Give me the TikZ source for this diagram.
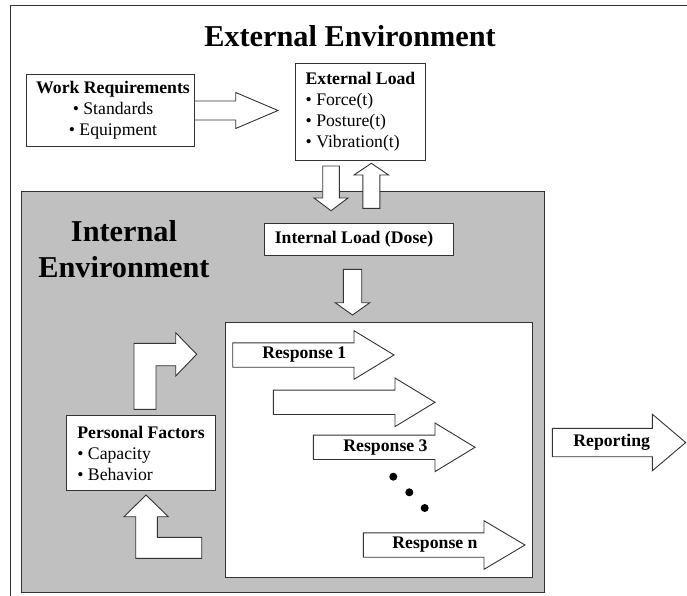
\documentclass[tikz,border=0pt]{standalone}
\usepackage{fontspec}
\setmainfont{Liberation Serif}
\definecolor{linec}{HTML}{333333}
\definecolor{envgray}{HTML}{C0C0C0}
\newcommand\blkR[6]{\filldraw[barrow] (#1,#4-#5) -- (#2,#4-#5) -- (#2,#4-#6) -- (#3,#4) -- (#2,#4+#6) -- (#2,#4+#5) -- (#1,#4+#5) -- cycle;}
\newcommand\blkV[6]{\filldraw[barrow] (#1-#5,#2) -- (#1+#5,#2) -- (#1+#5,#3) -- (#1+#6,#3) -- (#1,#4) -- (#1-#6,#3) -- (#1-#5,#3) -- cycle;}
\begin{document}
\begin{tikzpicture}[x=1pt,y=-1pt,
  barrow/.style={draw=linec, fill=white, line width=0.9pt, line join=miter},
  wbox/.style={draw=linec, fill=white, line width=0.9pt, inner sep=0pt},
  txt/.style={inner sep=0pt, font=\fontsize{17.7}{21}\selectfont},
  bigtxt/.style={inner sep=0pt, font=\fontsize{30.3}{36}\selectfont\bfseries},
  dot/.style={circle, fill=black, inner sep=0pt, minimum size=8pt}]
\useasboundingbox (0,0) rectangle (687,596);
% outer frame
\coordinate (fbl) at (10.7,596);
\coordinate (ftl) at (10.7,5.7);
\coordinate (ftr) at (687,5.7);
\draw[draw=linec, line width=0.9pt] (fbl) -- (ftl) -- (ftr);
% title
\node[bigtxt] (ext) at (350,36.5) {External Environment};
% internal environment gray area
\node[draw=linec, fill=envgray, line width=0.9pt, inner sep=0pt, minimum width=523.3pt, minimum height=401pt, anchor=north west] (int) at (20.7,191) {};
\node[bigtxt, align=center] (intt) at (124,249) {Internal\\Environment};
% response box
\node[wbox, minimum width=307pt, minimum height=255.3pt, anchor=north west] (resp) at (225.3,322) {};
% arrows
\blkR{194}{235.7}{278}{110.5}{9.5}{18}
\blkV{331}{166}{198}{210.7}{8.3}{17}
\blkV{371.3}{208.3}{175}{163.3}{8.5}{17.3}
\blkV{352.5}{269.3}{302.7}{315}{9.2}{17.3}
\blkR{232.7}{354}{394}{355}{12.2}{24.3}
\blkR{273.3}{395}{435}{402.3}{12.2}{24.3}
\blkR{313.3}{435}{475}{447.3}{12.2}{24.3}
\blkR{363.3}{484}{525}{545}{12.2}{24.3}
\blkR{552.3}{652.3}{685.7}{442.5}{14.2}{28.3}
\filldraw[barrow] (134,409.3) -- (134,343.3) -- (175.7,343.3) -- (175.7,332.7) -- (196.7,354.3) -- (175.7,376) -- (175.7,365.7) -- (156,365.7) -- (156,409.3) -- cycle;
\filldraw[barrow] (146,495) -- (168.3,516.7) -- (157.3,516.7) -- (157.3,537.3) -- (201.7,537.3) -- (201.7,558.3) -- (135.7,558.3) -- (135.7,516.7) -- (124,516.7) -- cycle;
% boxes
\node[wbox, minimum width=168pt, minimum height=72pt] (wr) at (110,110) {};
\node[txt, align=center] (wrt) at (113,110) {\textbf{Work Requirements}\\• Standards\\• Equipment};
\node[wbox, minimum width=130pt, minimum height=97pt] (el) at (360.7,111.5) {};
\node[txt, align=left] (elt) at (360.5,112) {\textbf{External Load}\\• Force(t)\\• Posture(t)\\• Vibration(t)};
\node[wbox, minimum width=189pt, minimum height=31.7pt] (il) at (358.8,239.2) {};
\node[txt] (ilt) at (354,239.5) {\textbf{Internal Load (Dose)}};
\node[wbox, minimum width=149pt, minimum height=75pt] (pf) at (140.5,452.5) {};
\node[txt, align=left] (pft) at (141,453) {\textbf{Personal Factors}\\• Capacity\\• Behavior};
% response labels
\node[txt] (r1) at (304.3,355) {\textbf{Response 1}};
\node[txt] (r3) at (385.5,447.3) {\textbf{Response 3}};
\node[txt] (rn) at (435,545) {\textbf{Response n}};
\node[txt] (rep) at (611.7,442.5) {\textbf{Reporting}};
% dots
\node[dot] (d1) at (393.3,476.7) {};
\node[dot] (d2) at (409.3,492.3) {};
\node[dot] (d3) at (424.7,508) {};
\end{tikzpicture}
\end{document}
